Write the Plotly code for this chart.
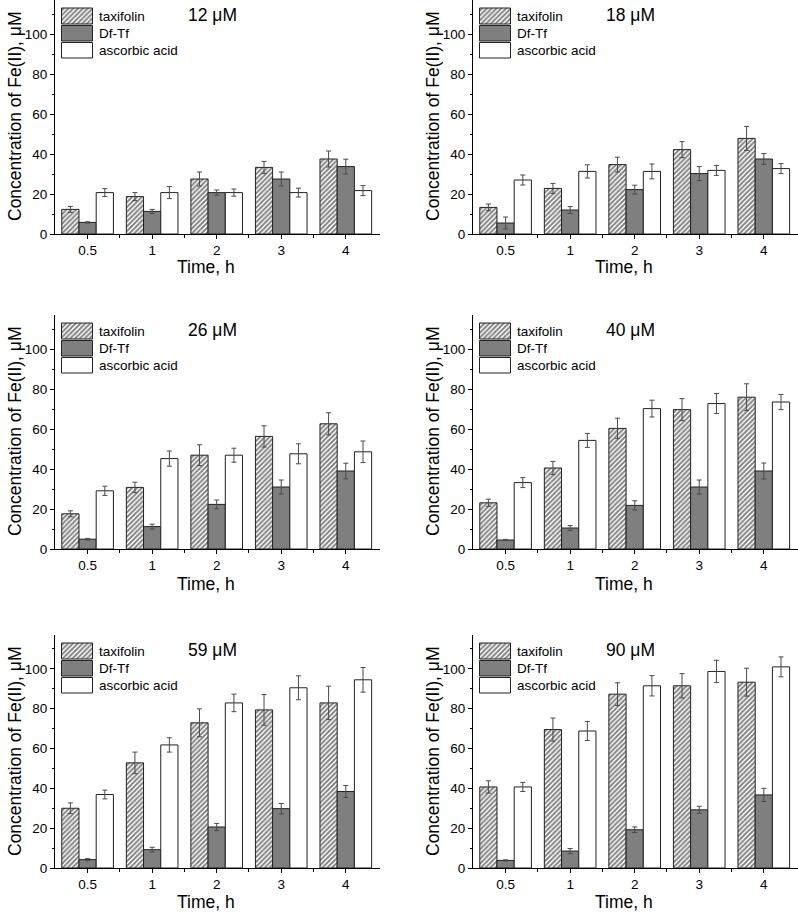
import plotly.graph_objects as go

# ---------------- data ----------------
times = ["0.5", "1", "2", "3", "4"]
panel_titles = ["12 μM", "18 μM", "26 μM", "40 μM", "59 μM", "90 μM"]
series_names = ["taxifolin", "Df-Tf", "ascorbic acid"]

taxifolin_mean = [
    [12.3, 18.7, 27.5, 33.3, 37.5],
    [13.3, 22.8, 34.7, 42.2, 47.8],
    [17.6, 30.8, 46.9, 56.3, 62.6],
    [23.1, 40.5, 60.3, 69.7, 75.9],
    [30.0, 52.8, 72.9, 79.4, 82.9],
    [40.7, 69.5, 87.3, 91.5, 93.3],
]
taxifolin_err = [
    [1.5, 2.0, 3.5, 3.0, 4.0],
    [1.7, 2.5, 3.7, 4.0, 6.0],
    [1.5, 2.6, 5.2, 5.3, 5.5],
    [1.8, 3.3, 5.1, 5.5, 6.7],
    [2.7, 5.4, 7.0, 7.7, 8.4],
    [3.1, 5.8, 5.7, 6.1, 7.0],
]
dftf_mean = [
    [5.8, 11.3, 20.7, 27.5, 33.7],
    [5.5, 12.0, 22.2, 30.2, 37.5],
    [4.9, 11.2, 22.3, 31.0, 39.0],
    [4.5, 10.5, 21.8, 31.0, 39.0],
    [4.2, 9.2, 20.6, 29.8, 38.4],
    [3.8, 8.5, 19.2, 29.2, 36.7],
]
dftf_err = [
    [0.3, 1.0, 1.3, 3.5, 3.7],
    [3.0, 1.7, 2.2, 3.5, 2.7],
    [0.4, 1.2, 2.2, 3.5, 3.9],
    [0.3, 1.2, 2.3, 3.5, 4.0],
    [0.5, 1.2, 1.8, 2.6, 3.0],
    [0.3, 1.3, 1.4, 1.8, 3.3],
]
ascorbic_mean = [
    [20.7, 20.7, 20.7, 20.7, 21.7],
    [27.0, 31.3, 31.3, 31.8, 32.7],
    [29.1, 45.2, 46.9, 47.6, 48.6],
    [33.2, 54.3, 70.2, 72.7, 73.5],
    [36.9, 61.8, 82.9, 90.5, 94.5],
    [40.7, 68.8, 91.5, 98.7, 101.0],
]
ascorbic_err = [
    [2.0, 3.0, 1.8, 2.2, 2.5],
    [2.5, 3.3, 3.7, 2.5, 2.5],
    [2.3, 3.8, 3.5, 5.0, 5.4],
    [2.5, 3.5, 4.2, 5.0, 3.8],
    [2.2, 3.6, 4.4, 6.0, 6.2],
    [2.3, 4.8, 5.1, 5.6, 5.0],
]

y_tick_vals = [0, 20, 40, 60, 80, 100]

# ---------------- styling / layout ----------------
W, H = 798, 916
FONT = "Arial, Liberation Sans, sans-serif"
EDGE = "#222222"
ERR = "#4a4a4a"
DF_FILL = "#7f7f7f"
HATCH = dict(shape="/", size=3.4, solidity=0.55, fgcolor="#000000", bgcolor="white")

col_left = [55, 473]
col_width = 325
row_top = [0, 315, 635]
row_bottom = [234, 549, 868]
xtitle_y = [267, 584, 902]
plot_h = 234

def px_x(x):
    return x / W

def px_y(y):
    return 1 - y / H

fig = go.Figure()
annotations = []

series_means = [taxifolin_mean, dftf_mean, ascorbic_mean]
series_errs = [taxifolin_err, dftf_err, ascorbic_err]
xpos = list(range(len(times)))

for p in range(6):
    r, c = divmod(p, 2)
    idx = "" if p == 0 else str(p + 1)
    xa, ya = "x" + idx, "y" + idx
    for s in range(3):
        marker = dict(line=dict(color=EDGE, width=1))
        if s == 0:
            marker["color"] = "white"
            marker["pattern"] = HATCH
        elif s == 1:
            marker["color"] = DF_FILL
        else:
            marker["color"] = "white"
        fig.add_trace(go.Bar(
            x=xpos, y=series_means[s][p], name=series_names[s],
            marker=marker, showlegend=False,
            error_y=dict(type="data", array=series_errs[s][p], visible=True,
                         color=ERR, thickness=1, width=2.5),
            xaxis=xa, yaxis=ya,
        ))
    left = col_left[c]
    dom_x = [px_x(left), min(1.0, px_x(left + col_width))]
    dom_y = [px_y(row_bottom[r]), px_y(row_top[r])]
    xkey = "xaxis" + idx
    ykey = "yaxis" + idx
    fig.layout[xkey] = dict(
        domain=dom_x, anchor=ya, range=[-0.505, 4.53],
        tickmode="array", tickvals=xpos, ticktext=times,
        ticks="outside", ticklen=4, tickwidth=1, tickcolor="black",
        minor=dict(tickmode="array", tickvals=[0.5, 1.5, 2.5, 3.5],
                   ticks="outside", ticklen=2.5, tickcolor="black", tickwidth=1),
        showline=True, linecolor="black", linewidth=1,
        showgrid=False, zeroline=False, automargin=False,
        tickfont=dict(family=FONT, size=13.5, color="black"),
    )
    fig.layout[ykey] = dict(
        domain=dom_y, anchor=xa, range=[0, 117],
        tickmode="array", tickvals=y_tick_vals,
        ticks="outside", ticklen=4, tickwidth=1, tickcolor="black",
        minor=dict(dtick=10, tick0=0, ticks="outside", ticklen=2.5,
                   tickcolor="black", tickwidth=1),
        showline=True, linecolor="black", linewidth=1,
        showgrid=False, zeroline=False, automargin=False,
        tickfont=dict(family=FONT, size=13.5, color="black"),
    )
    top = row_top[r]
    # panel title
    annotations.append(dict(
        text=panel_titles[p], x=px_x(left + 157.5), y=px_y(top + 15),
        xref="paper", yref="paper", xanchor="center", yanchor="middle",
        showarrow=False, font=dict(family=FONT, size=17.5, color="black")))
    # x axis title
    annotations.append(dict(
        text="Time, h", x=px_x(left + 151), y=px_y(xtitle_y[r]),
        xref="paper", yref="paper", xanchor="center", yanchor="middle",
        showarrow=False, font=dict(family=FONT, size=17.5, color="black")))
    # y axis title
    annotations.append(dict(
        text="Concentration of Fe(II), μM", x=px_x(left - 40), y=px_y(top + plot_h / 2),
        xref="paper", yref="paper", xanchor="center", yanchor="middle",
        textangle=-90, showarrow=False,
        font=dict(family=FONT, size=17.5, color="black")))
    # legend (drawn as filled swatches + text)
    box_rows = [(8, 24), (25.5, 41), (42.5, 58)]
    for s, (b0, b1) in enumerate(box_rows):
        x0, x1 = left + 6.5, left + 37.5
        y0, y1 = top + b0, top + b1
        kw = dict(fill="toself", mode="lines",
                  line=dict(color=EDGE, width=1), showlegend=False,
                  hoverinfo="skip", xaxis="x13", yaxis="y13")
        if s == 0:
            kw["fillcolor"] = "white"
            kw["fillpattern"] = HATCH
        elif s == 1:
            kw["fillcolor"] = DF_FILL
        else:
            kw["fillcolor"] = "white"
        fig.add_trace(go.Scatter(x=[x0, x1, x1, x0, x0], y=[y0, y0, y1, y1, y0], **kw))
        annotations.append(dict(
            text=series_names[s], x=px_x(left + 41.5), y=px_y((y0 + y1) / 2 + 0.5),
            xref="paper", yref="paper", xanchor="left", yanchor="middle",
            showarrow=False, font=dict(family=FONT, size=13.5, color="black")))

# full-figure pixel overlay axes for legend swatches
fig.layout["xaxis13"] = dict(domain=[0, 1], anchor="y13", range=[0, W], visible=False,
                             fixedrange=True)
fig.layout["yaxis13"] = dict(domain=[0, 1], anchor="x13", range=[H, 0], visible=False,
                             fixedrange=True)

fig.update_layout(
    width=W, height=H,
    margin=dict(l=0, r=0, t=0, b=0, pad=0),
    paper_bgcolor="white", plot_bgcolor="rgba(0,0,0,0)",
    barmode="group", bargap=0.2, bargroupgap=0,
    showlegend=False,
    annotations=annotations,
    font=dict(family=FONT, color="black"),
)

fig.write_html(
    "out.html",
    config={"displayModeBar": False},
    post_script="document.body.style.margin='0';document.body.style.overflow='hidden';",
)
